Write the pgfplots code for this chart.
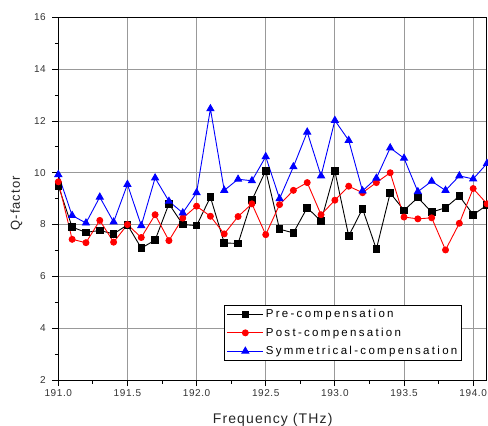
\documentclass[border=0pt]{standalone}
\usepackage{fontspec}
\setmainfont{Liberation Sans}
\newfontfamily\tickfont[LetterSpace=6]{Liberation Sans}
\newfontfamily\legfont[LetterSpace=20]{Liberation Sans}
\newfontfamily\labfont[LetterSpace=8]{Liberation Sans}
\usepackage{pgfplots}
\pgfplotsset{compat=1.18}
\begin{document}
\begin{tikzpicture}
\begin{axis}[
  at={(0,0)}, anchor=south west,
  scale only axis, width=428.7pt, height=362.7pt,
  xmin=191, xmax=194.1, ymin=2, ymax=16,
  xtick={191,191.5,192,192.5,193,193.5,194},
  ytick={2,4,6,8,10,12,14,16},
  minor x tick num=1, minor y tick num=1,
  grid=major,
  major grid style={draw=gray!80, line width=0.8pt},
  axis line style={line width=1pt, black},
  tick align=outside, tick pos=left,
  major tick length=6pt, minor tick length=3.5pt,
  tick style={line width=0.8pt, black},
  xticklabel style={/pgf/number format/.cd, fixed, fixed zerofill, precision=1, assume math mode=true},
  yticklabel style={/pgf/number format/assume math mode=true, xshift=-3pt},
  ticklabel style={font=\tickfont\fontsize{10}{12}\selectfont, text=black!80},
  xlabel={Frequency (THz)},
  ylabel={Q-factor},
  xlabel style={at={(axis description cs:0.5,0)}, anchor=base, yshift=-43pt, font=\labfont\fontsize{14}{16}\selectfont, text=black!85},
  ylabel style={at={(axis description cs:-0.098,0.487)}, anchor=center, font=\labfont\fontsize{13}{15}\selectfont, text=black!85},
  legend style={at={(axis description cs:0.3865,0.0524)}, anchor=south west, draw=black, line width=0.8pt,
    font=\legfont\fontsize{11.5}{13}\selectfont, row sep=4.5pt, inner sep=2.5pt},
  legend cell align=left,
  legend image code/.code={\draw[mark repeat=2,mark phase=2,#1] plot coordinates {(0pt,0pt) (18pt,0pt) (36pt,0pt)};},
]
\addplot[black, line width=0.9pt, mark=square*, mark size=3.3pt, mark options={fill=black, solid}] coordinates {
(191.0,9.5) (191.1,7.9) (191.2,7.7) (191.3,7.77) (191.4,7.64) (191.5,7.99) (191.6,7.09) (191.7,7.4)
(191.8,8.8) (191.9,8.0) (192.0,7.96) (192.1,9.06) (192.2,7.29) (192.3,7.27) (192.4,8.94) (192.5,10.08)
(192.6,7.82) (192.7,7.68) (192.8,8.65) (192.9,8.13) (193.0,10.06) (193.1,7.56) (193.2,8.61) (193.3,7.05)
(193.4,9.22) (193.5,8.55) (193.6,9.04) (193.7,8.48) (193.8,8.65) (193.9,9.1) (194.0,8.38) (194.1,8.75)};
\addlegendentry{Pre-compensation}
\addplot[red, line width=0.9pt, mark=*, mark size=3pt, mark options={fill=red, solid}] coordinates {
(191.0,9.65) (191.1,7.43) (191.2,7.3) (191.3,8.16) (191.4,7.32) (191.5,8.0) (191.6,7.5) (191.7,8.38)
(191.8,7.38) (191.9,8.25) (192.0,8.71) (192.1,8.32) (192.2,7.64) (192.3,8.31) (192.4,8.8) (192.5,7.61)
(192.6,8.77) (192.7,9.32) (192.8,9.62) (192.9,8.38) (193.0,8.94) (193.1,9.48) (193.2,9.23) (193.3,9.62)
(193.4,10.0) (193.5,8.29) (193.6,8.22) (193.7,8.26) (193.8,7.02) (193.9,8.05) (194.0,9.39) (194.1,8.8)};
\addlegendentry{Post-compensation}
\addplot[blue, line width=0.9pt, mark=triangle*, mark size=4pt, mark options={fill=blue, solid}] coordinates {
(191.0,9.93) (191.1,8.35) (191.2,8.06) (191.3,9.06) (191.4,8.1) (191.5,9.55) (191.6,7.96) (191.7,9.8)
(191.8,8.9) (191.9,8.45) (192.0,9.23) (192.1,12.47) (192.2,9.32) (192.3,9.75) (192.4,9.69) (192.5,10.62)
(192.6,9.0) (192.7,10.23) (192.8,11.57) (192.9,9.88) (193.0,12.02) (193.1,11.25) (193.2,9.3) (193.3,9.79)
(193.4,10.96) (193.5,10.56) (193.6,9.27) (193.7,9.67) (193.8,9.32) (193.9,9.88) (194.0,9.76) (194.1,10.36)};
\addlegendentry{Symmetrical-compensation}
\end{axis}
\pgfresetboundingbox
\path[use as bounding box] (-58.3pt,-46pt) rectangle (429.7pt,380pt);
\end{tikzpicture}
\end{document}
